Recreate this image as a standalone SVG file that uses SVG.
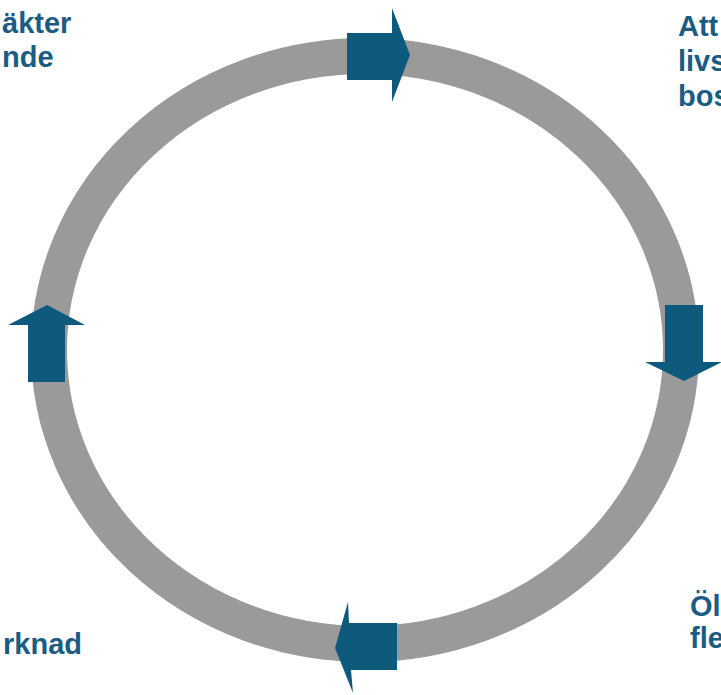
<svg xmlns="http://www.w3.org/2000/svg" width="721" height="695" viewBox="0 0 721 695">
<style>
.ring{fill:none;stroke:#9a9a9a;stroke-width:36}
.arr{fill:#0d5a7d}
.lbl{font-family:"Liberation Sans",Arial,sans-serif;font-weight:bold;font-size:29px;fill:#1a5c82}
</style>
<rect width="721" height="695" fill="#ffffff"/>
<g id="connectors">
<ellipse class="ring" cx="365" cy="350" rx="316" ry="294"/>
<polygon id="arrow-top" class="arr" points="347,33 392,33 392,8 410,55 392,102 392,80 347,80"/>
<polygon id="arrow-right" class="arr" points="665,305 703,305 703,362 722,362 684,381 645,362 665,362"/>
<polygon id="arrow-bottom" class="arr" points="397,623 397,670 351,670 353,693 335,648 348,602 349,623"/>
<polygon id="arrow-left" class="arr" points="28,382 65,382 65,325 85,325 47,305 8,325 28,325"/>
</g>
<g id="node-topleft">
<text class="lbl" x="2" y="33">äkter</text>
<text class="lbl" x="2" y="67">nde</text>
</g>
<g id="node-topright">
<text class="lbl" x="678" y="36">Att</text>
<text class="lbl" x="678" y="71">livs</text>
<text class="lbl" x="678" y="106">bos</text>
</g>
<g id="node-bottomright">
<text class="lbl" x="690" y="616">Öl</text>
<text class="lbl" x="690" y="648">fle</text>
</g>
<g id="node-bottomleft">
<text class="lbl" x="3" y="654">rknad</text>
</g>
</svg>
